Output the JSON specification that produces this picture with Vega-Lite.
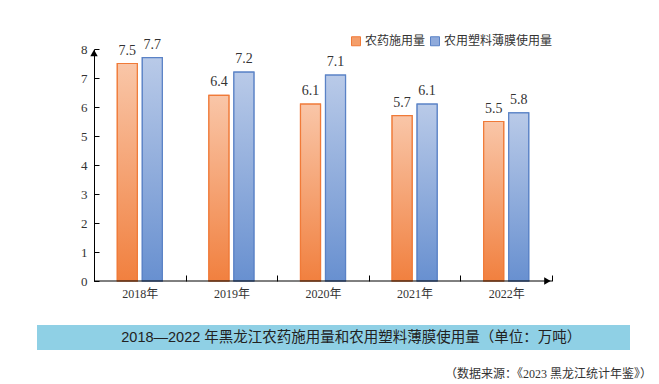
{
  "$schema": "https://vega.github.io/schema/vega-lite/v6.json",
  "padding": {"left": 37, "top": 35, "right": 5, "bottom": 5},
  "background": "white",
  "bounds": "flush",
  "center": true,
  "spacing": 44,
  "config": {"view": {"stroke": null}, "font": "Liberation Serif, Noto Sans CJK SC"},
  "datasets": {
    "d": [
      {"year": "2018年", "series": "农药施用量", "value": 7.5},
      {"year": "2018年", "series": "农用塑料薄膜使用量", "value": 7.7},
      {"year": "2019年", "series": "农药施用量", "value": 6.4},
      {"year": "2019年", "series": "农用塑料薄膜使用量", "value": 7.2},
      {"year": "2020年", "series": "农药施用量", "value": 6.1},
      {"year": "2020年", "series": "农用塑料薄膜使用量", "value": 7.1},
      {"year": "2021年", "series": "农药施用量", "value": 5.7},
      {"year": "2021年", "series": "农用塑料薄膜使用量", "value": 6.1},
      {"year": "2022年", "series": "农药施用量", "value": 5.5},
      {"year": "2022年", "series": "农用塑料薄膜使用量", "value": 5.8}
    ],
    "arrowY": [{"year": "2018年", "v": 7.86}],
    "arrowX": [{"year": "2022年", "v": 0}],
    "axisLine": [{"a": "2018年", "b": "2022年", "v": 0}],
    "titleText": [{"t": "2018—2022 年黑龙江农药施用量和农用塑料薄膜使用量（单位：万吨）"}]
  },
  "vconcat": [
    {
      "width": 479,
      "height": 232,
      "resolve": {"scale": {"fill": "independent", "stroke": "independent"}},
      "encoding": {
        "x": {
          "field": "year",
          "type": "nominal",
          "scale": {"domain": ["2018年", "2019年", "2020年", "2021年", "2022年"], "paddingInner": 0, "paddingOuter": 0.1146, "align": 0, "round": false},
          "axis": {
            "title": null,
            "labelAngle": 0,
            "domain": false,
            "tickBand": "extent",
            "tickSize": -6,
            "tickColor": "#000",
            "labelPadding": 13,
            "labelFontSize": 12,
            "labelColor": "#333",
            "labelFont": "Liberation Serif, Noto Sans CJK SC"
          }
        },
        "xOffset": {"field": "series", "type": "nominal", "sort": ["农药施用量", "农用塑料薄膜使用量"], "scale": {"domain": ["农药施用量", "农用塑料薄膜使用量"], "paddingInner": 0.2, "paddingOuter": 0.932, "round": false}},
        "y": {
          "field": "value",
          "type": "quantitative",
          "scale": {"domain": [0, 8], "nice": false},
          "axis": {
            "title": null,
            "values": [0, 1, 2, 3, 4, 5, 6, 7, 8],
            "grid": false,
            "domainColor": "#000",
            "tickColor": "#000",
            "tickSize": -5,
            "labelPadding": 12,
            "labelFontSize": 13,
            "labelColor": "#333",
            "labelFont": "Liberation Serif"
          }
        }
      },
      "layer": [
        {
          "data": {"name": "d"},
          "mark": {"type": "bar", "fill": "#000", "opacity": 0.1, "xOffset": 3, "stroke": null},
          "encoding": {}
        },
        {
          "data": {"name": "d"},
          "mark": {"type": "bar", "strokeWidth": 1.2},
          "encoding": {
            "fill": {
              "field": "series",
              "type": "nominal",
              "sort": ["农药施用量", "农用塑料薄膜使用量"],
              "scale": {"domain": ["农药施用量", "农用塑料薄膜使用量"], "range": ["#f49e6a", "#8faadb"]},
              "legend": {
                "orient": "none",
                "legendX": 256,
                "legendY": -14,
                "direction": "horizontal",
                "title": null,
                "symbolType": "square",
                "symbolSize": 81,
                "labelFont": "Noto Sans CJK SC",
                "labelFontSize": 12,
                "labelColor": "#333",
                "columnPadding": 2,
                "labelOffset": 3,
                "padding": 0,
                "symbolStrokeWidth": 1,
                "symbolOpacity": 1
              }
            },
            "stroke": {
              "field": "series",
              "type": "nominal",
              "sort": ["农药施用量", "农用塑料薄膜使用量"],
              "scale": {"domain": ["农药施用量", "农用塑料薄膜使用量"], "range": ["#f07a38", "#5a82c6"]}
            }
          }
        },
        {
          "data": {"name": "d"},
          "transform": [{"filter": "datum.series === '农药施用量'"}],
          "mark": {
            "type": "bar",
            "strokeWidth": 1.2,
            "stroke": "#f07a38",
            "fill": {"gradient": "linear", "x1": 0, "y1": 0, "x2": 0, "y2": 1, "stops": [{"offset": 0, "color": "#f9c6a8"}, {"offset": 1, "color": "#f1803f"}]}
          },
          "encoding": {}
        },
        {
          "data": {"name": "d"},
          "transform": [{"filter": "datum.series === '农用塑料薄膜使用量'"}],
          "mark": {
            "type": "bar",
            "strokeWidth": 1.2,
            "stroke": "#5a82c6",
            "fill": {"gradient": "linear", "x1": 0, "y1": 0, "x2": 0, "y2": 1, "stops": [{"offset": 0, "color": "#b9cae8"}, {"offset": 1, "color": "#6890d0"}]}
          },
          "encoding": {}
        },
        {
          "data": {"name": "d"},
          "mark": {"type": "text", "baseline": "alphabetic", "dy": -9, "fontSize": 14, "color": "#333", "font": "Liberation Serif"},
          "encoding": {
            "text": {"field": "value", "type": "quantitative", "format": ".1f"}
          }
        },
        {
          "data": {"name": "axisLine"},
          "mark": {"type": "rule", "color": "#000", "strokeWidth": 1},
          "encoding": {
            "x": {"field": "a", "type": "nominal", "bandPosition": 0},
            "x2": {"field": "b", "bandPosition": 1},
            "xOffset": null,
            "y": {"field": "v", "type": "quantitative"}
          }
        },
        {
          "data": {"name": "arrowY"},
          "mark": {"type": "point", "shape": "triangle-up", "filled": true, "color": "#000", "size": 55, "opacity": 1},
          "encoding": {
            "x": {"field": "year", "type": "nominal", "bandPosition": 0},
            "xOffset": null,
            "y": {"field": "v", "type": "quantitative"}
          }
        },
        {
          "data": {"name": "arrowX"},
          "mark": {"type": "point", "shape": "triangle-right", "filled": true, "color": "#000", "size": 55, "opacity": 1},
          "encoding": {
            "x": {"field": "year", "type": "nominal", "bandPosition": 0.95},
            "xOffset": null,
            "y": {"field": "v", "type": "quantitative"}
          }
        }
      ]
    },
    {
      "width": 593,
      "height": 25,
      "view": {"fill": "#8fd0e5", "stroke": null},
      "data": {"name": "titleText"},
      "title": {
        "text": "（数据来源：《2023 黑龙江统计年鉴》）",
        "orient": "bottom",
        "anchor": "end",
        "offset": 19,
        "dx": 22,
        "fontSize": 12,
        "fontWeight": "normal",
        "font": "Liberation Serif, Noto Sans CJK SC",
        "color": "#333"
      },
      "mark": {"type": "text", "fontSize": 14.5, "font": "Liberation Sans, Noto Sans CJK SC", "color": "#222"},
      "encoding": {
        "text": {"field": "t"},
        "x": {"datum": 0.53, "type": "quantitative", "scale": {"domain": [0, 1]}, "axis": null},
        "y": {"datum": 0.5, "type": "quantitative", "scale": {"domain": [0, 1]}, "axis": null}
      }
    }
  ]
}
